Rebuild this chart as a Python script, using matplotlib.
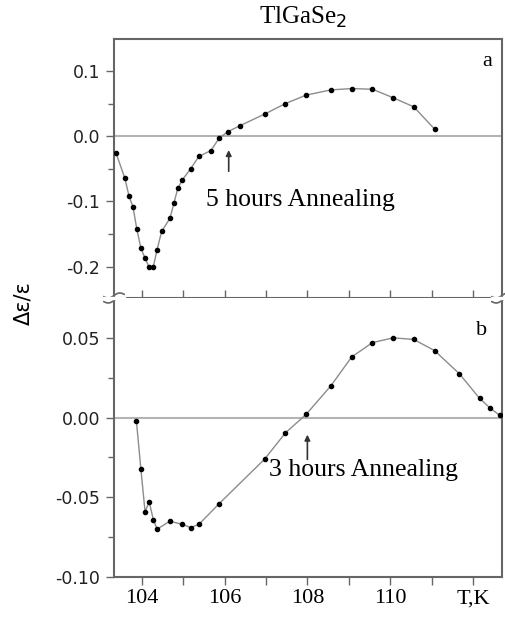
import matplotlib
matplotlib.use("Agg")
import matplotlib.pyplot as plt
import numpy as np

# panel a: 5 hours annealing
t_a = [103.38, 103.59, 103.69, 103.79, 103.88, 103.98, 104.08, 104.18, 104.28, 104.37,
       104.48, 104.68, 104.78, 104.87, 104.98, 105.18, 105.38, 105.67, 105.87, 106.08,
       106.37, 106.97, 107.47, 107.97, 108.57, 109.07, 109.57, 110.07, 110.57, 111.07]
d_a = [-0.026, -0.064, -0.091, -0.109, -0.142, -0.172, -0.187, -0.201, -0.200, -0.174,
       -0.146, -0.126, -0.102, -0.080, -0.067, -0.050, -0.031, -0.022, -0.003, 0.007,
       0.016, 0.034, 0.050, 0.063, 0.071, 0.073, 0.072, 0.059, 0.045, 0.011]

# panel b: 3 hours annealing
t_b = [103.87, 103.98, 104.08, 104.18, 104.28, 104.37, 104.68, 104.98, 105.18, 105.38,
       105.87, 106.97, 107.47, 107.97, 108.57, 109.07, 109.57, 110.07, 110.57, 111.07,
       111.67, 112.16, 112.41, 112.65]
d_b = [-0.002, -0.0325, -0.059, -0.053, -0.064, -0.070, -0.065, -0.067, -0.069, -0.067,
       -0.054, -0.026, -0.0096, 0.002, 0.020, 0.038, 0.047, 0.050, 0.049, 0.042,
       0.0275, 0.012, 0.006, 0.0013]

yticks_a = [0.1, 0.0, -0.1, -0.2]
ylabels_a = ["0.1", "0.0", "-0.1", "-0.2"]
yticks_b = [0.05, 0.0, -0.05, -0.10]
ylabels_b = ["0.05", "0.00", "-0.05", "-0.10"]
xticks = [104, 105, 106, 107, 108, 109, 110, 111, 112]
xlabels = ["104", "", "106", "", "108", "", "110", "", "T,K"]

serif = "Liberation Serif"
spine_c = "#666666"
line_c = "#8c8c8c"
zero_c = "#b4b4b4"

plt.rcParams["axes.unicode_minus"] = False
fig = plt.figure(figsize=(5.06, 6.19), dpi=100)
ax1 = fig.add_axes([0.2253, 0.5186, 0.7668, 0.4184])
ax2 = fig.add_axes([0.2253, 0.0679, 0.7668, 0.4507])

for ax, t, d, yt, yl in [(ax1, t_a, d_a, yticks_a, ylabels_a),
                         (ax2, t_b, d_b, yticks_b, ylabels_b)]:
    ax.axhline(0, color=zero_c, lw=1.5, zorder=1)
    ax.plot(t, d, color=line_c, lw=1.0, zorder=2)
    ax.plot(t, d, "o", color="black", ms=3, zorder=3)
    ax.set_xlim(103.33, 112.7)
    ax.set_yticks(yt)
    ax.set_yticklabels(yl, fontsize=12.5, color="#222222")
    ax.set_xticks(xticks)
    for s in ax.spines.values():
        s.set_color(spine_c)
        s.set_linewidth(1.5)
    ax.tick_params(axis="y", direction="out", length=6, width=1, color=spine_c, pad=4)
    ax.tick_params(axis="y", which="minor", direction="out", length=4, width=1, color=spine_c)

ax1.set_ylim(-0.248, 0.149)
ax1.set_yticks([0.05, -0.05, -0.15], minor=True)
ax1.tick_params(axis="x", direction="inout", length=12, width=1, color=spine_c,
                labelbottom=False)

ax2.set_ylim(-0.10, 0.075)
ax2.set_yticks([0.025, -0.025, -0.075], minor=True)
ax2.spines["top"].set_visible(False)
ax2.set_xticklabels(xlabels, fontsize=16, family=serif)
ax2.tick_params(axis="x", direction="out", length=6, width=1, color=spine_c, pad=3)

# labels and annotations
fig.text(0.598, 0.972, "TlGaSe$_2$", fontsize=18, family=serif, ha="center", va="center")
fig.text(0.046, 0.511, "Δε/ε", fontsize=15, rotation=90, ha="center", va="center")
ax1.text(0.963, 0.915, "a", transform=ax1.transAxes, fontsize=16, family=serif,
         ha="center", va="center")
ax2.text(0.948, 0.882, "b", transform=ax2.transAxes, fontsize=16, family=serif,
         ha="center", va="center")

ax1.annotate("", xy=(106.1, -0.017), xytext=(106.1, -0.058),
             arrowprops=dict(arrowstyle="-|>", color="#333333", lw=1.2, mutation_scale=8))
ax1.text(105.55, -0.098, "5 hours Annealing", fontsize=18.5, family=serif, va="center")
ax2.annotate("", xy=(108.0, -0.009), xytext=(108.0, -0.028),
             arrowprops=dict(arrowstyle="-|>", color="#333333", lw=1.2, mutation_scale=8))
ax2.text(107.07, -0.033, "3 hours Annealing", fontsize=18.5, family=serif, va="center")

# axis break marks at the junction
for xf in [0.2253, 0.992]:
    xs = np.linspace(-0.02, 0.02, 30)
    for dy in [-0.004, 0.004]:
        ys = 0.5186 + dy + 0.003 * np.sin(xs / 0.02 * np.pi) + xs * 0.1
        fig.add_artist(plt.Line2D(xf + xs, ys, color=spine_c, lw=1.2))
    fig.add_artist(plt.Rectangle((xf - 0.021, 0.5186 - 0.0015), 0.042, 0.003,
                                 color="white", zorder=2, transform=fig.transFigure))

fig.savefig("out.png", dpi=100)
